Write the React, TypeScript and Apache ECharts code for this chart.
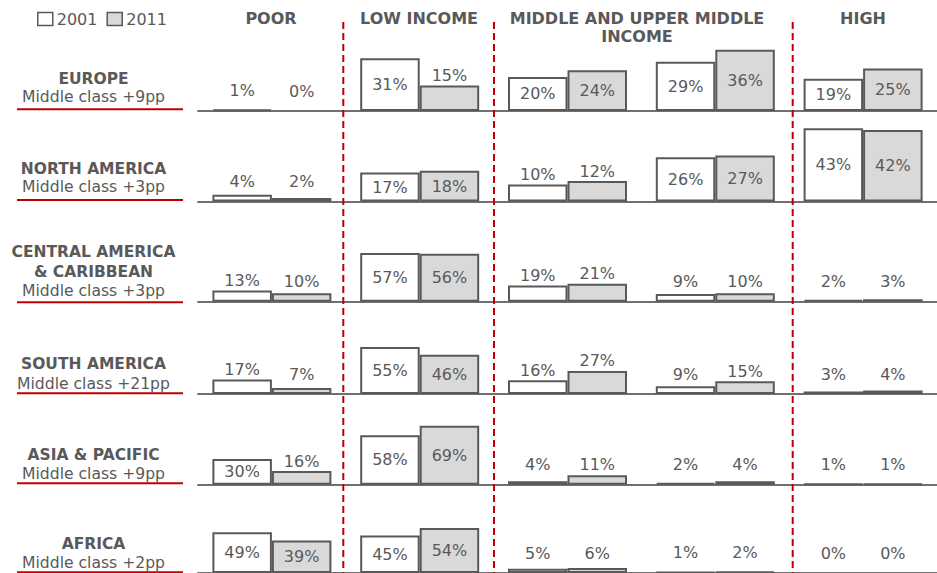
import React, { useEffect, useRef } from 'react';
import * as echarts from 'echarts';

// ---------- data ----------
const CATEGORIES = ['Poor', 'Low income', 'Middle income', 'Upper middle income', 'High'];
const HEADERS = ['POOR', 'LOW INCOME', 'MIDDLE AND UPPER MIDDLE\nINCOME', 'HIGH'];
const SERIES_NAMES = ['2001', '2011'];

const REGIONS = ['EUROPE', 'NORTH AMERICA', 'CENTRAL AMERICA\n& CARIBBEAN', 'SOUTH AMERICA', 'ASIA & PACIFIC', 'AFRICA'];
const NOTES = ['Middle class +9pp', 'Middle class +3pp', 'Middle class +3pp', 'Middle class +21pp', 'Middle class +9pp', 'Middle class +2pp'];

const EUROPE_2001 = [1, 31, 20, 29, 19];
const EUROPE_2011 = [0, 15, 24, 36, 25];
const NORTH_AMERICA_2001 = [4, 17, 10, 26, 43];
const NORTH_AMERICA_2011 = [2, 18, 12, 27, 42];
const CENTRAL_AMERICA_2001 = [13, 57, 19, 9, 2];
const CENTRAL_AMERICA_2011 = [10, 56, 21, 10, 3];
const SOUTH_AMERICA_2001 = [17, 55, 16, 9, 3];
const SOUTH_AMERICA_2011 = [7, 46, 27, 15, 4];
const ASIA_2001 = [30, 58, 4, 2, 1];
const ASIA_2011 = [16, 69, 11, 4, 1];
const AFRICA_2001 = [49, 45, 5, 1, 0];
const AFRICA_2011 = [39, 54, 6, 2, 0];

const ROW_DATA = [
  [EUROPE_2001, EUROPE_2011],
  [NORTH_AMERICA_2001, NORTH_AMERICA_2011],
  [CENTRAL_AMERICA_2001, CENTRAL_AMERICA_2011],
  [SOUTH_AMERICA_2001, SOUTH_AMERICA_2011],
  [ASIA_2001, ASIA_2011],
  [AFRICA_2001, AFRICA_2011],
];

// ---------- layout / style ----------
const FONT = '"DejaVu Sans", Verdana, sans-serif';
const GREY = '#595959';
const RED = '#c00000';
const GRID_H = 80;
const Y_MAX = [47, 47, 93.6, 93.6, 93.6, 93.6];
const BASELINES = [111, 201.5, 301.7, 394, 484.7, 575];
const TITLE_Y = [[78.8], [168.6], [252.2, 271.6], [363.8], [455.2], [543.8]];
const NOTE_Y = [97.4, 186.6, 291.2, 384.4, 473.7, 563.2];
const UNDERLINE_Y = [109.3, 200, 302.3, 393.3, 483.3, 572.3];
const HEADER_X = [271, 419, 637, 863];
const DASH_X = [343.3, 494, 792.7];

function makeItem(v: number, yMax: number) {
  const h = (v * GRID_H) / yMax;
  const inside = h > 25.6;
  return {
    value: v,
    itemStyle: v === 0 ? { borderWidth: 0 } : undefined,
    label: inside
      ? { position: 'inside' }
      : { position: 'top', distance: Math.max(2, 12 - h) },
  };
}

export default function App() {
  const ref = useRef<HTMLDivElement>(null);

  useEffect(() => {
    if (!ref.current) return;
    const chart = echarts.init(ref.current, undefined, { renderer: 'svg' });

    const grids: any[] = [];
    const xAxes: any[] = [];
    const yAxes: any[] = [];
    const series: any[] = [];
    const graphics: any[] = [];

    ROW_DATA.forEach((pair, r) => {
      grids.push({ left: 198, right: 0, top: BASELINES[r] - GRID_H, height: GRID_H });
      xAxes.push({
        type: 'category',
        gridIndex: r,
        data: CATEGORIES,
        axisTick: { show: false },
        axisLabel: { show: false },
        axisLine: { show: true, lineStyle: { color: '#707070', width: 2 } },
        splitLine: { show: false },
      });
      yAxes.push({ type: 'value', gridIndex: r, min: 0, max: Y_MAX[r], show: false, splitLine: { show: false } });
      pair.forEach((vals, s) => {
        series.push({
          type: 'bar',
          name: SERIES_NAMES[s],
          xAxisIndex: r,
          yAxisIndex: r,
          barWidth: 59.5,
          barGap: '0%',
          itemStyle: {
            color: s === 0 ? '#ffffff' : '#d9d9d9',
            borderColor: GREY,
            borderWidth: 2,
          },
          label: {
            show: true,
            formatter: '{c}%',
            fontSize: 16,
            fontFamily: FONT,
            color: GREY,
          },
          data: vals.map((v) => makeItem(v, Y_MAX[r])),
        });
      });

      // row titles
      REGIONS[r].split('\n').forEach((line, li) => {
        graphics.push({
          type: 'text',
          x: 93.5,
          y: TITLE_Y[r][li],
          style: {
            text: line,
            font: `bold 15.5px ${FONT}`,
            fill: GREY,
            align: 'center',
            verticalAlign: 'middle',
          },
        });
      });
      graphics.push({
        type: 'text',
        x: 93.5,
        y: NOTE_Y[r],
        style: {
          text: NOTES[r],
          font: `15.6px ${FONT}`,
          fill: GREY,
          align: 'center',
          verticalAlign: 'middle',
        },
      });
      graphics.push({
        type: 'line',
        shape: { x1: 17, y1: UNDERLINE_Y[r], x2: 183, y2: UNDERLINE_Y[r] },
        style: { stroke: RED, lineWidth: 2 },
      });
    });

    HEADERS.forEach((h, i) => {
      h.split('\n').forEach((line, li) => {
        graphics.push({
          type: 'text',
          x: HEADER_X[i],
          y: 18 + li * 18,
          style: {
            text: line,
            font: `bold 16px ${FONT}`,
            fill: GREY,
            align: 'center',
            verticalAlign: 'middle',
          },
        });
      });
    });

    DASH_X.forEach((x) => {
      graphics.push({
        type: 'line',
        z: 100,
        shape: { x1: x, y1: 22, x2: x, y2: 573 },
        style: { stroke: RED, lineWidth: 2, lineDash: [7, 4] },
      });
    });

    chart.setOption({
      animation: false,
      backgroundColor: '#ffffff',
      legend: {
        data: SERIES_NAMES,
        left: 37,
        top: 11,
        padding: 0,
        icon: 'rect',
        itemWidth: 15,
        itemHeight: 13,
        itemGap: 9,
        selectedMode: false,
        itemStyle: { borderWidth: 1.5, borderColor: GREY },
        textStyle: { fontSize: 16, fontFamily: FONT, color: GREY, padding: [0, 0, 0, -1] },
      },
      grid: grids,
      xAxis: xAxes,
      yAxis: yAxes,
      series,
      graphic: graphics,
    });

    return () => chart.dispose();
  }, []);

  return (
    <div
      ref={ref}
      style={{ position: 'fixed', left: 0, top: 0, width: 937, height: 573, background: '#fff' }}
    />
  );
}
